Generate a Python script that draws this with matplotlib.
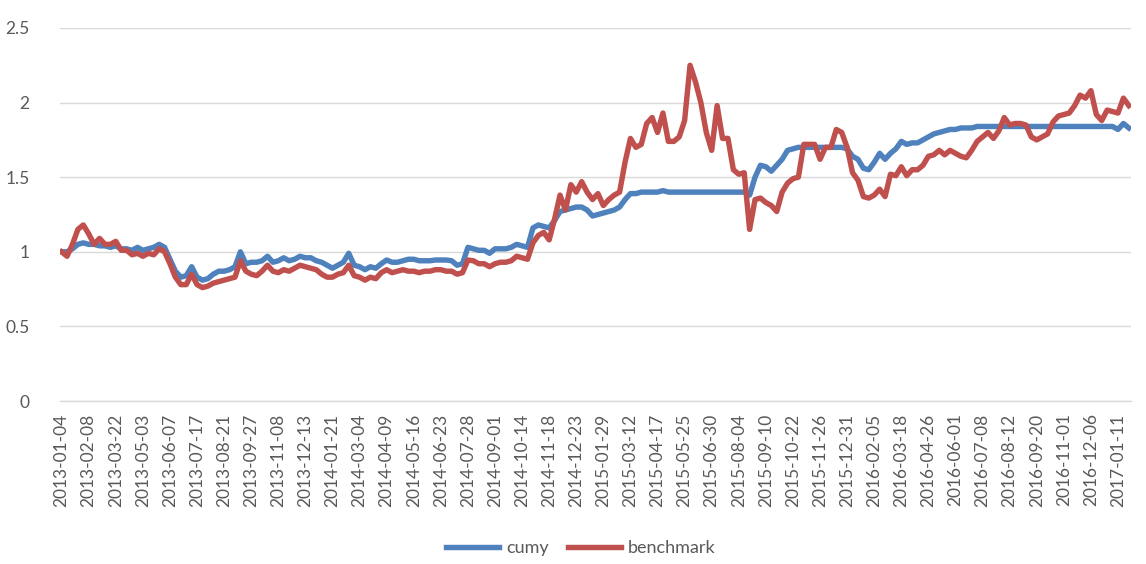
import numpy as np
import matplotlib
matplotlib.use("Agg")
import matplotlib.pyplot as plt

# one sample every 5 trading days
step = 5

cumy = [
    1.00, 1.00, 1.02, 1.05, 1.06, 1.05, 1.05, 1.04, 1.04, 1.03,
    1.04, 1.02, 1.02, 1.01, 1.03, 1.01, 1.02, 1.03, 1.05, 1.03,
    0.95, 0.87, 0.83, 0.84, 0.90, 0.83, 0.81, 0.82, 0.85, 0.87,
    0.87, 0.88, 0.90, 1.00, 0.92, 0.93, 0.93, 0.94, 0.97, 0.93,
    0.94, 0.96, 0.94, 0.95, 0.97, 0.96, 0.96, 0.94, 0.93, 0.91,
    0.89, 0.91, 0.93, 0.99, 0.91, 0.90, 0.88, 0.90, 0.89, 0.92,
    0.945, 0.93, 0.93, 0.94, 0.95, 0.95, 0.94, 0.94, 0.94, 0.945,
    0.945, 0.945, 0.94, 0.91, 0.92, 1.03, 1.02, 1.01, 1.01, 0.99,
    1.02, 1.02, 1.02, 1.03, 1.05, 1.04, 1.03, 1.16, 1.18, 1.17,
    1.16, 1.21, 1.27, 1.28, 1.29, 1.30, 1.30, 1.28, 1.24, 1.25,
    1.26, 1.27, 1.28, 1.30, 1.35, 1.39, 1.39, 1.40, 1.40, 1.40,
    1.40, 1.41, 1.40, 1.40, 1.40, 1.40, 1.40, 1.40, 1.40, 1.40,
    1.40, 1.40, 1.40, 1.40, 1.40, 1.40, 1.40, 1.38, 1.50, 1.58,
    1.57, 1.54, 1.58, 1.62, 1.68, 1.69, 1.70, 1.70, 1.70, 1.70,
    1.70, 1.70, 1.70, 1.70, 1.70, 1.69, 1.64, 1.62, 1.56, 1.55,
    1.60, 1.66, 1.62, 1.66, 1.69, 1.74, 1.72, 1.73, 1.73, 1.75,
    1.77, 1.79, 1.80, 1.81, 1.82, 1.82, 1.83, 1.83, 1.83, 1.84,
    1.84, 1.84, 1.84, 1.84, 1.84, 1.84, 1.84, 1.84, 1.84, 1.84,
    1.84, 1.84, 1.84, 1.84, 1.84, 1.84, 1.84, 1.84, 1.84, 1.84,
    1.84, 1.84, 1.84, 1.84, 1.84, 1.82, 1.86, 1.83,
]

benchmark = [
    1.00, 0.97, 1.05, 1.15, 1.18, 1.12, 1.05, 1.09, 1.05, 1.05,
    1.07, 1.01, 1.01, 0.98, 0.99, 0.97, 0.99, 0.98, 1.02, 1.00,
    0.92, 0.83, 0.78, 0.78, 0.85, 0.78, 0.76, 0.77, 0.79, 0.80,
    0.81, 0.82, 0.83, 0.94, 0.87, 0.85, 0.84, 0.87, 0.91, 0.87,
    0.86, 0.88, 0.87, 0.89, 0.91, 0.90, 0.89, 0.88, 0.85, 0.83,
    0.83, 0.85, 0.86, 0.91, 0.84, 0.83, 0.81, 0.83, 0.82, 0.86,
    0.88, 0.86, 0.87, 0.88, 0.87, 0.87, 0.86, 0.87, 0.87, 0.88,
    0.88, 0.87, 0.87, 0.85, 0.86, 0.945, 0.94, 0.92, 0.92, 0.90,
    0.92, 0.93, 0.93, 0.94, 0.97, 0.96, 0.95, 1.06, 1.11, 1.13,
    1.08, 1.22, 1.38, 1.28, 1.45, 1.40, 1.47, 1.40, 1.35, 1.39,
    1.31, 1.35, 1.38, 1.40, 1.60, 1.76, 1.70, 1.72, 1.86, 1.90,
    1.80, 1.93, 1.74, 1.74, 1.77, 1.88, 2.25, 2.14, 2.00, 1.80,
    1.68, 1.98, 1.76, 1.76, 1.55, 1.52, 1.53, 1.15, 1.35, 1.36,
    1.33, 1.31, 1.27, 1.40, 1.46, 1.49, 1.50, 1.72, 1.72, 1.72,
    1.62, 1.70, 1.70, 1.82, 1.80, 1.70, 1.53, 1.48, 1.37, 1.36,
    1.38, 1.42, 1.37, 1.52, 1.51, 1.57, 1.51, 1.55, 1.55, 1.58,
    1.64, 1.65, 1.68, 1.65, 1.68, 1.66, 1.64, 1.63, 1.68, 1.74,
    1.77, 1.80, 1.76, 1.81, 1.90, 1.85, 1.86, 1.86, 1.85, 1.77,
    1.75, 1.77, 1.79, 1.87, 1.91, 1.92, 1.93, 1.98, 2.05, 2.03,
    2.08, 1.92, 1.88, 1.95, 1.94, 1.93, 2.03, 1.98,
]

# category labels shown every 25 trading days
tick_labels = [
    "2013-01-04", "2013-02-08", "2013-03-22", "2013-05-03", "2013-06-07",
    "2013-07-17", "2013-08-21", "2013-09-27", "2013-11-08", "2013-12-13",
    "2014-01-21", "2014-03-04", "2014-04-09", "2014-05-16", "2014-06-23",
    "2014-07-28", "2014-09-01", "2014-10-14", "2014-11-18", "2014-12-23",
    "2015-01-29", "2015-03-12", "2015-04-17", "2015-05-25", "2015-06-30",
    "2015-08-04", "2015-09-10", "2015-10-22", "2015-11-26", "2015-12-31",
    "2016-02-05", "2016-03-18", "2016-04-26", "2016-06-01", "2016-07-08",
    "2016-08-12", "2016-09-20", "2016-11-01", "2016-12-06", "2017-01-11",
]
tick_every = 25

plt.rcParams['font.family'] = ['Lato', 'DejaVu Sans']

fig = plt.figure(figsize=(11.46, 5.64), dpi=100)
ax = fig.add_axes([60 / 1146, 163 / 564, 1071 / 1146, 373 / 564])

x = np.arange(len(cumy)) * step
ax.plot(x, cumy, color="#4F81BD", lw=3.9, solid_joinstyle="round", label="cumy", zorder=3)
ax.plot(x, benchmark, color="#C0504D", lw=3.9, solid_joinstyle="round", label="benchmark", zorder=4)

ax.set_xlim(-1.5, 987)
ax.set_ylim(0, 2.5)
ax.set_yticks(np.arange(0, 2.51, 0.5))
ax.set_yticklabels(["0", "0.5", "1", "1.5", "2", "2.5"])
ax.set_xticks(np.arange(len(tick_labels)) * tick_every)
ax.set_xticklabels(tick_labels, rotation=90)

ax.grid(axis="y", color="#D9D9D9", lw=1.0)
ax.set_axisbelow(True)
for s in ["top", "right", "left"]:
    ax.spines[s].set_visible(False)
ax.spines["bottom"].set_color("#D9D9D9")
ax.spines["bottom"].set_linewidth(1.0)
ax.tick_params(axis="both", length=0, colors="#595959", labelsize=12.5)
ax.tick_params(axis="y", pad=22)
ax.tick_params(axis="x", pad=9)

fig.legend(loc="center", bbox_to_anchor=(581 / 1146, 1 - 548 / 564), ncol=2,
           frameon=False, fontsize=13, handlelength=2.9, columnspacing=1.1,
           handletextpad=0.4, labelcolor="#595959")

fig.savefig("out.png", dpi=100)
